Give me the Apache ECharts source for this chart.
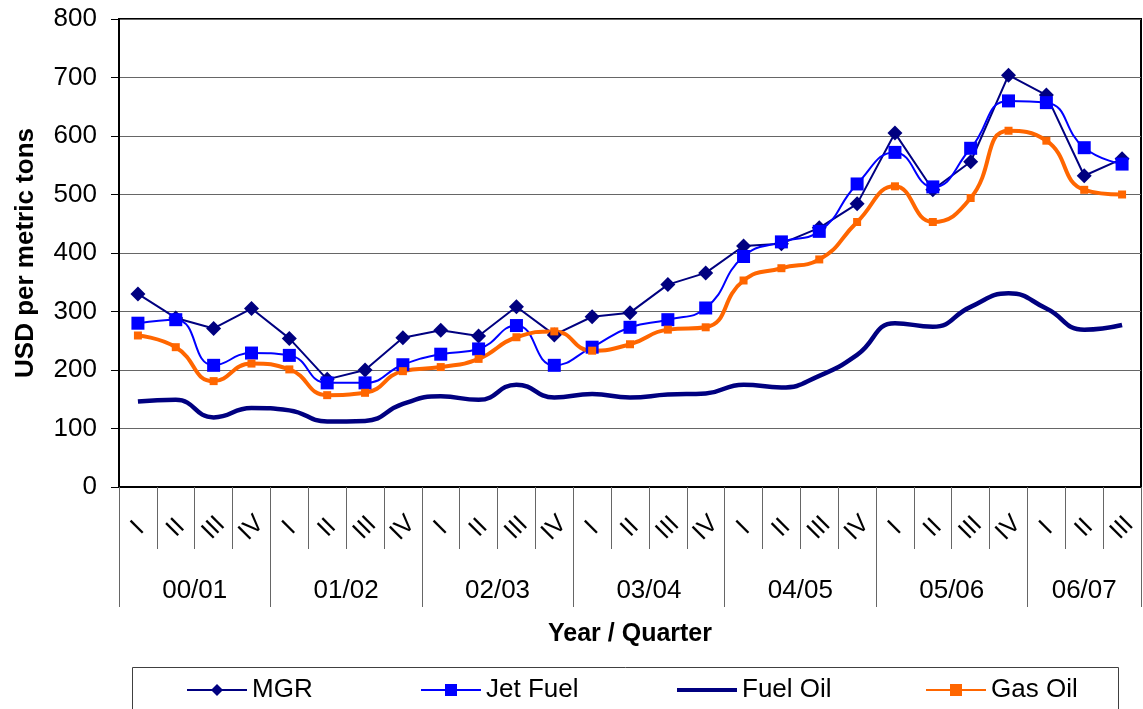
<!DOCTYPE html>
<html>
<head>
<meta charset="utf-8">
<script src="https://cdn.jsdelivr.net/npm/echarts@6/dist/echarts.min.js"></script>
<style>
  html, body { margin: 0; padding: 0; background: #fff; }
  #chart { width: 1143px; height: 709px; }
</style>
</head>
<body>
<div id="chart"></div>
<script>
// quarters / fiscal years
const quarterNames = ['I', 'II', 'III', 'IV'];
const years = ['00/01', '01/02', '02/03', '03/04', '04/05', '05/06', '06/07'];
const quartersPerYear = [4, 4, 4, 4, 4, 4, 3];

// USD per metric ton, one value per quarter
const mgr = [330, 289, 271, 305, 254, 184, 200, 255, 268, 258, 308, 260, 291, 298, 346, 366, 412, 416, 443, 484, 605, 508, 556, 704, 670, 532, 561];
const jetFuel = [280, 286, 208, 229, 225, 178, 178, 209, 227, 236, 276, 208, 239, 273, 286, 306, 394, 419, 437, 518, 572, 513, 579, 660, 657, 580, 552];
const fuelOil = [146, 149, 119, 135, 131, 112, 113, 142, 155, 149, 175, 153, 159, 153, 158, 160, 175, 170, 190, 226, 280, 274, 308, 331, 305, 269, 277];
const gasOil = [259, 239, 181, 211, 201, 157, 161, 198, 205, 219, 256, 266, 233, 244, 269, 273, 353, 374, 389, 453, 514, 453, 494, 609, 592, 508, 500];

const yTicks = [0, 100, 200, 300, 400, 500, 600, 700, 800];

// build category list + year boundaries/centres
let categories = [];
let yearBounds = [0];
let yearCenters = [];
let pos = 0;
years.forEach((y, i) => {
  for (let q = 0; q < quartersPerYear[i]; q++) {
    categories.push(y + ' ' + quarterNames[q]);
  }
  yearCenters.push(pos + quartersPerYear[i] / 2);
  pos += quartersPerYear[i];
  yearBounds.push(pos);
});

const legendNames = ['MGR', 'Jet Fuel', 'Fuel Oil', 'Gas Oil'];
const legendLefts = [186, 420, 677, 925];

const chart = echarts.init(document.getElementById('chart'));
chart.setOption({
  animation: false,
  textStyle: { fontFamily: '"Liberation Sans", Arial, sans-serif', color: '#000' },
  grid: {
    left: 119, right: 2, top: 19, bottom: 222,
    show: true, borderColor: '#000', borderWidth: 2
  },
  legend: legendNames.map((n, i) => ({
    // fuel oil has no marker, so draw its key as a plain bar
    data: n === 'Fuel Oil' ? [{ name: n, icon: 'rect' }] : [n],
    left: legendLefts[i],
    top: 677,
    padding: 0,
    itemWidth: 60,
    itemHeight: n === 'Fuel Oil' ? 4 : 15,
    textStyle: { fontSize: 26, color: '#000' }
  })),
  graphic: [{
    type: 'rect',
    shape: { x: 132.5, y: 667.5, width: 986, height: 42 },
    style: { fill: 'none', stroke: '#404040', lineWidth: 1 }
  }],
  xAxis: [{
    type: 'category',
    data: categories,
    boundaryGap: true,
    axisLine: { lineStyle: { color: '#000', width: 2 } },
    axisTick: { show: true, interval: 0, alignWithLabel: false, length: 62, lineStyle: { color: '#666' } },
    axisLabel: {
      interval: 0, rotate: 45, align: 'center', verticalAlign: 'middle',
      margin: 41, fontSize: 25, color: '#000',
      formatter: v => v.split(' ')[1]
    },
    splitLine: { show: false }
  }, {
    type: 'value',
    min: 0,
    max: pos,
    position: 'bottom',
    axisLine: { show: false },
    splitLine: { show: false },
    axisTick: { show: true, customValues: yearBounds, length: 120, lineStyle: { color: '#666' } },
    axisLabel: {
      customValues: yearCenters,
      formatter: v => years[yearCenters.indexOf(v)],
      fontSize: 26, margin: 91, color: '#000'
    },
    name: 'Year / Quarter',
    nameLocation: 'middle',
    nameGap: 135,
    nameTextStyle: { fontWeight: 'bold', fontSize: 25, color: '#000' }
  }],
  yAxis: {
    type: 'value',
    min: yTicks[0],
    max: yTicks[yTicks.length - 1],
    interval: 100,
    name: 'USD per metric tons',
    nameLocation: 'middle',
    nameGap: 80,
    nameTextStyle: { fontWeight: 'bold', fontSize: 26, color: '#000' },
    axisLine: { show: true, lineStyle: { color: '#000', width: 2 } },
    axisTick: { show: true, length: 8, lineStyle: { color: '#000' } },
    axisLabel: { fontSize: 26, margin: 22, color: '#000' },
    splitLine: { lineStyle: { color: '#666', width: 1 } }
  },
  series: [{
    name: 'MGR',
    type: 'line',
    data: mgr,
    color: '#000080',
    lineStyle: { width: 2 },
    symbol: 'diamond',
    symbolSize: 15
  }, {
    name: 'Jet Fuel',
    type: 'line',
    data: jetFuel,
    color: '#0000ff',
    smooth: 0.5,
    lineStyle: { width: 2 },
    symbol: 'rect',
    symbolSize: 13
  }, {
    name: 'Fuel Oil',
    type: 'line',
    data: fuelOil,
    color: '#000080',
    smooth: 0.5,
    lineStyle: { width: 4.5 },
    symbol: 'none'
  }, {
    name: 'Gas Oil',
    type: 'line',
    data: gasOil,
    color: '#ff6600',
    smooth: 0.5,
    lineStyle: { width: 4 },
    symbol: 'rect',
    symbolSize: 8
  }]
});
</script>
</body>
</html>
